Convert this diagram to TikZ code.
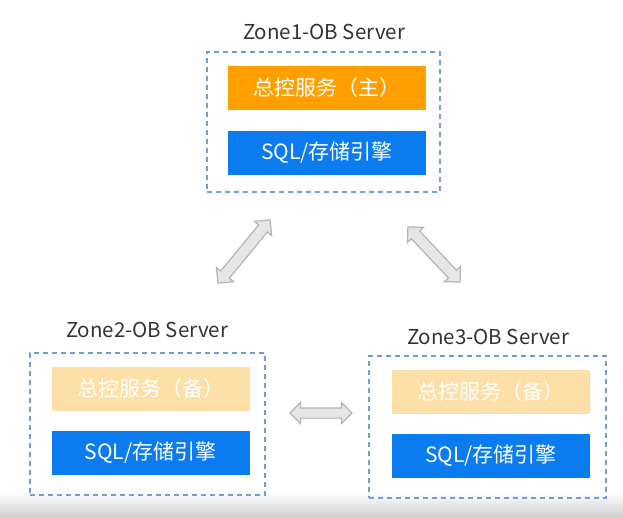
\documentclass[tikz,border=0pt]{standalone}
\usepackage{fontspec}
\setmainfont{Noto Sans CJK SC}
\usetikzlibrary{shapes,arrows,positioning}
\definecolor{obblue}{HTML}{0A7CF0}
\definecolor{oborange}{HTML}{FFA000}
\definecolor{oblight}{HTML}{FDDFA8}
\definecolor{obdash}{HTML}{6F9FDA}
\definecolor{obarrow}{HTML}{E6E6E6}
\definecolor{obarrowline}{HTML}{B4B4B4}

\begin{document}
\begin{tikzpicture}[x=1pt,y=-1pt,
		zone/.style={draw=obdash,line width=1.4pt,dash pattern=on 5pt off 4pt},
		svc/.style={minimum width=198pt,minimum height=44pt,inner sep=0pt,text=white,font=\fontsize{21}{24}\selectfont},
		title/.style={text=black!80,font=\fontsize{20.5}{24}\selectfont},
		fat/.style={double arrow,fill=obarrow,draw=obarrowline,line width=1.2pt,minimum width=21pt,double arrow head extend=5.5pt,inner xsep=0pt,inner ysep=5pt}]
		\useasboundingbox (0,0) rectangle (623,517);
		\shade[top color=white,bottom color=black!18] (0,492) rectangle (623,517);
		% zone 1
		\node[title] (t1) at (324,32) {Zone1-OB Server};
		\node[zone,minimum width=233pt,minimum height=140pt] (z1) at (323.5,122) {};
		\node[svc,fill=oborange] (m1) at (327,88) {总控服务（主）};
		\node[svc,fill=obblue] (s1) at (327,152.5) {SQL/存储引擎};
		% zone 2
		\node[title] (t2) at (147,330) {Zone2-OB Server};
		\node[zone,minimum width=235pt,minimum height=142pt] (z2) at (147.5,424) {};
		\node[svc,fill=oblight] (m2) at (150.5,389) {总控服务（备）};
		\node[svc,fill=obblue] (s2) at (150.5,453) {SQL/存储引擎};
		% zone 3
		\node[title] (t3) at (488,337) {Zone3-OB Server};
		\node[zone,minimum width=237pt,minimum height=142pt] (z3) at (487.5,427) {};
		\node[svc,fill=oblight] (m3) at (491,391.5) {总控服务（备）};
		\node[svc,fill=obblue] (s3) at (491,455.5) {SQL/存储引擎};
		% links
		\node[fat,rotate=50.5,minimum height=82pt] (a12) at (244,251.5) {};
		\node[fat,rotate=-46.6,minimum height=76pt] (a13) at (434,254.5) {};
		\node[fat,minimum height=62pt,minimum width=19pt,inner ysep=4.5pt] (a23) at (321,413) {};
	\end{tikzpicture}
\end{document}
